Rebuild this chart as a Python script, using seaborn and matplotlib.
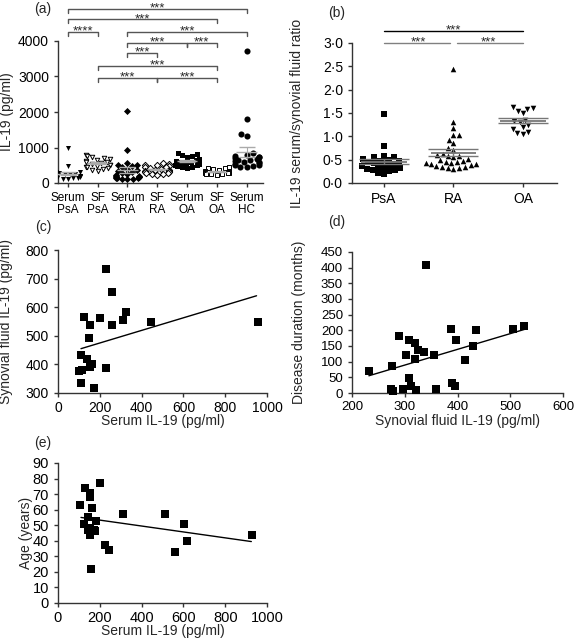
import numpy as np
import pandas as pd
import matplotlib
matplotlib.use("Agg")
import matplotlib.pyplot as plt
import seaborn as sns

# ---------------- data ----------------
# (a) IL-19 levels (pg/ml)
groups_a = ["Serum PsA", "SF PsA", "Serum RA", "SF RA", "Serum OA", "SF OA", "Serum HC"]
ticklabels_a = ["Serum\nPsA", "SF\nPsA", "Serum\nRA", "SF\nRA", "Serum\nOA", "SF\nOA", "Serum\nHC"]
serum_psa = [1000, 480, 320, 300, 280, 260, 250, 240, 220, 210, 200, 190, 180, 170, 160, 150, 140, 130, 120, 110]
sf_psa = [780, 760, 740, 700, 680, 650, 620, 600, 580, 560, 540, 520, 500, 480, 460, 440, 420, 400, 360, 330]
serum_ra = [2030, 920, 560, 520, 500, 480, 440, 400, 380, 340, 300, 280, 250, 220, 200, 200, 180, 170, 160,
            150, 140, 130, 120, 110, 100]
sf_ra = [560, 540, 520, 500, 480, 460, 440, 420, 400, 380, 370, 350, 340, 320, 300, 290, 280, 260, 250, 230]
serum_oa = [850, 820, 780, 760, 720, 680, 650, 620, 600, 580, 560, 540, 520, 500, 480, 460, 440, 420]
sf_oa = [450, 430, 410, 390, 370, 350, 340, 320, 300, 290, 280, 270, 260, 250, 240, 230]
serum_hc = [3720, 1800, 1370, 1310, 850, 800, 760, 740, 720, 700, 680, 660, 640, 620, 600, 580, 560, 540,
            520, 500, 480, 460, 440]
values_a = [serum_psa, sf_psa, serum_ra, sf_ra, serum_oa, sf_oa, serum_hc]
markers_a = ["v", "v", "D", "D", "s", "s", "o"]
filled_a = [True, False, True, False, True, False, True]
# significance comparisons (group index 1, group index 2, level, label)
sig_a = [(0, 6, 4900, "***"), (0, 5, 4606, "***"), (0, 1, 4254, "****"), (2, 6, 4254, "***"),
         (2, 4, 3944, "***"), (4, 5, 3944, "***"), (2, 3, 3662, "***"), (1, 5, 3296, "***"),
         (1, 3, 2958, "***"), (3, 5, 2958, "***")]

# (b) serum / synovial fluid ratio
groups_b = ["PsA", "RA", "OA"]
ratio_psa = [1.47, 0.80, 0.58, 0.55, 0.55, 0.52, 0.50, 0.48, 0.47, 0.45, 0.44, 0.42, 0.40, 0.38, 0.36,
             0.35, 0.33, 0.32, 0.30, 0.28, 0.27, 0.25, 0.22, 0.20]
ratio_ra = [2.45, 1.30, 1.18, 1.02, 1.02, 0.93, 0.85, 0.75, 0.70, 0.62, 0.60, 0.58, 0.57, 0.55, 0.52,
            0.50, 0.48, 0.46, 0.45, 0.43, 0.42, 0.40, 0.40, 0.38, 0.36, 0.35, 0.34, 0.33, 0.32, 0.31]
ratio_oa = [1.62, 1.60, 1.58, 1.55, 1.50, 1.35, 1.32, 1.30, 1.25, 1.20, 1.15, 1.10, 1.08, 1.05]
values_b = [ratio_psa, ratio_ra, ratio_oa]
markers_b = ["s", "^", "v"]
sig_b = [(0, 2, 3.26, "***", "black"), (0, 1, 3.0, "***", "gray"), (1, 2, 3.0, "***", "gray")]

# (c) serum vs synovial fluid IL-19
c_serum = [230, 258, 125, 200, 325, 310, 445, 260, 155, 150, 955, 110, 140, 165, 155, 115, 100, 230, 110, 170]
c_sf = [732, 652, 566, 563, 582, 555, 547, 537, 537, 493, 547, 432, 420, 400, 390, 382, 376, 388, 335, 318]
c_fit_x = [110, 950]
c_fit_y = [455, 640]

# (d) synovial fluid IL-19 vs disease duration
d_sf = [340, 232, 275, 289, 308, 319, 326, 337, 302, 319, 355, 388, 398, 414, 429, 436, 505, 527,
        308, 311, 273, 278, 296, 322, 360, 389, 396]
d_dur = [410, 70, 85, 181, 168, 160, 138, 131, 120, 107, 120, 203, 168, 106, 150, 201, 203, 215,
         49, 21, 12, 5, 12, 11, 12, 33, 22]
d_fit_x = [232, 527]
d_fit_y = [55, 203]

# (e) serum IL-19 vs age
e_serum = [104, 128, 152, 152, 200, 163, 125, 144, 184, 155, 173, 155, 176, 144, 224, 245, 309, 512,
           560, 605, 619, 928, 157]
e_age = [63, 74, 71, 68, 77, 61, 51, 55, 53, 48, 47, 44, 46, 47, 37, 34, 57, 57, 33, 51, 40, 44, 22]
e_fit_x = [110, 925]
e_fit_y = [55, 39.5]

# ---------------- style ----------------
sns.set_theme(style="ticks")
plt.rcParams["font.family"] = ["Liberation Sans", "DejaVu Sans"]
plt.rcParams.update({
    "axes.edgecolor": "#333333", "axes.linewidth": 1.0,
    "xtick.color": "#333333", "ytick.color": "#333333",
    "xtick.labelcolor": "black", "ytick.labelcolor": "black",
    "xtick.major.size": 3, "ytick.major.size": 3,
    "xtick.major.width": 1.0, "ytick.major.width": 1.0,
    "xtick.labelsize": 10, "ytick.labelsize": 10, "axes.labelsize": 10,
})

fig = plt.figure(figsize=(5.76, 6.4), dpi=100)
W, H = 576, 640


def rect(l, r, t, b):
    return [l / W, 1 - b / H, (r - l) / W, (b - t) / H]


ax_a = fig.add_axes(rect(58, 263, 41, 183))
ax_b = fig.add_axes(rect(352, 557, 43, 183))
ax_c = fig.add_axes(rect(58, 267, 250, 393))
ax_d = fig.add_axes(rect(352, 563, 252, 393))
ax_e = fig.add_axes(rect(58, 267, 463, 603))


def stars(ax, x, y, lab):
    ax.annotate(lab, (x, y), xytext=(0, -2.0), textcoords="offset points",
                ha="center", va="baseline", fontsize=9.5, annotation_clip=False)


# ---------------- (a) ----------------
df_a = pd.DataFrame({"group": np.repeat(groups_a, [len(v) for v in values_a]),
                     "value": np.concatenate(values_a)})
for g, m, f in zip(groups_a, markers_a, filled_a):
    sub = df_a[df_a["group"] == g]
    sz = 4.4 if m == "o" else (3.6 if f else 3.2)
    sns.swarmplot(data=sub, x="group", y="value", order=groups_a, ax=ax_a, marker=m,
                  color="black" if f else "white", edgecolor="black", linewidth=0 if f else 0.7,
                  size=sz, warn_thresh=1)
for i, v in enumerate(values_a):
    mu = np.mean(v)
    se = np.std(v, ddof=1) / np.sqrt(len(v))
    ax_a.hlines(mu, i - 0.35, i + 0.35, color="#aaaaaa", lw=1.0, zorder=5)
    ax_a.errorbar(i, mu, yerr=se, color="#aaaaaa", lw=0.8, capsize=6, zorder=5)
ax_a.set_xlim(-0.33, 6.55)
ax_a.set_ylim(0, 4000)
ax_a.set_yticks([0, 1000, 2000, 3000, 4000])
ax_a.set_xticks(range(len(groups_a)))
ax_a.set_xticklabels(ticklabels_a, fontsize=8.5, linespacing=0.95)
ax_a.set_xlabel("")
ax_a.set_ylabel("IL-19 (pg/ml)")
ax_a.yaxis.set_label_coords(-0.215, 0.5)
for x1, x2, y, lab in sig_a:
    ax_a.plot([x1, x1, x2, x2], [y - 110, y, y, y - 110], color="#555555", lw=1.0, clip_on=False)
    stars(ax_a, (x1 + x2) / 2, y, lab)
sns.despine(ax=ax_a)

# ---------------- (b) ----------------
df_b = pd.DataFrame({"group": np.repeat(groups_b, [len(v) for v in values_b]),
                     "ratio": np.concatenate(values_b)})
for g, m in zip(groups_b, markers_b):
    sub = df_b[df_b["group"] == g]
    sns.swarmplot(data=sub, x="group", y="ratio", order=groups_b, ax=ax_b, marker=m,
                  color="black", linewidth=0, size=4, warn_thresh=1)
for i, v in enumerate(values_b):
    mu = np.mean(v)
    se = np.std(v, ddof=1) / np.sqrt(len(v))
    ax_b.hlines(mu, i - 0.33, i + 0.33, color="#777777", lw=1.3, zorder=5)
    ax_b.errorbar(i, mu, yerr=se, color="#777777", lw=1.0, capsize=18, capthick=1.0, zorder=5)
ax_b.set_xlim(-0.46, 2.49)
ax_b.set_ylim(0, 3.0)
yt = [0, 0.5, 1.0, 1.5, 2.0, 2.5, 3.0]
ax_b.set_yticks(yt)
ax_b.set_yticklabels([f"{t:.1f}".replace(".", "\u00b7") for t in yt])
ax_b.set_xlabel("")
ax_b.set_ylabel("IL-19 serum/synovial fluid ratio")
ax_b.yaxis.set_label_coords(-0.234, 0.5)
for x1, x2, y, lab, col in sig_b:
    ax_b.plot([x1 + (0.05 if x1 > 0 else 0), x2 - (0.05 if x2 < 2 else 0)], [y, y], color=col, lw=1.0,
              clip_on=False)
    stars(ax_b, (x1 + x2) / 2, y, lab)
sns.despine(ax=ax_b)

# ---------------- scatter panels ----------------
def scatter_panel(ax, x, y, fx, fy, xlim, ylim, xt, yt, xl, yl, ylx, xly, tsize):
    sns.scatterplot(x=x, y=y, ax=ax, marker="s", color="black", s=26, linewidth=0, clip_on=False,
                    zorder=3)
    sns.lineplot(x=fx, y=fy, ax=ax, color="black", lw=1.0)
    ax.set_xlim(*xlim)
    ax.set_ylim(*ylim)
    ax.set_xticks(xt)
    ax.set_yticks(yt)
    ax.tick_params(labelsize=tsize)
    ax.tick_params(axis="x", pad=2.5)
    ax.set_xlabel(xl)
    ax.set_ylabel(yl)
    ax.yaxis.set_label_coords(ylx, 0.5)
    ax.xaxis.set_label_coords(0.5, xly)
    sns.despine(ax=ax)


scatter_panel(ax_c, c_serum, c_sf, c_fit_x, c_fit_y, (0, 1000), (300, 800),
              range(0, 1001, 200), range(300, 801, 100),
              "Serum IL-19 (pg/ml)", "Synovial fluid IL-19 (pg/ml)", -0.215, -0.148, 10)
scatter_panel(ax_d, d_sf, d_dur, d_fit_x, d_fit_y, (200, 600), (0, 450),
              range(200, 601, 100), range(0, 451, 50),
              "Synovial fluid IL-19 (pg/ml)", "Disease duration (months)", -0.218, -0.148, 9.5)
scatter_panel(ax_e, e_serum, e_age, e_fit_x, e_fit_y, (0, 1000), (0, 90),
              range(0, 1001, 200), range(0, 91, 10),
              "Serum IL-19 (pg/ml)", "Age (years)", -0.12, -0.152, 10.5)

# panel letters
for lab, (px, py) in {"(a)": (43, 9), "(b)": (337, 13), "(c)": (43, 227),
                      "(d)": (337, 222), "(e)": (43, 443)}.items():
    fig.text(px / W, 1 - py / H, lab, ha="center", va="center", fontsize=10)

fig.savefig("out.png", dpi=100)
